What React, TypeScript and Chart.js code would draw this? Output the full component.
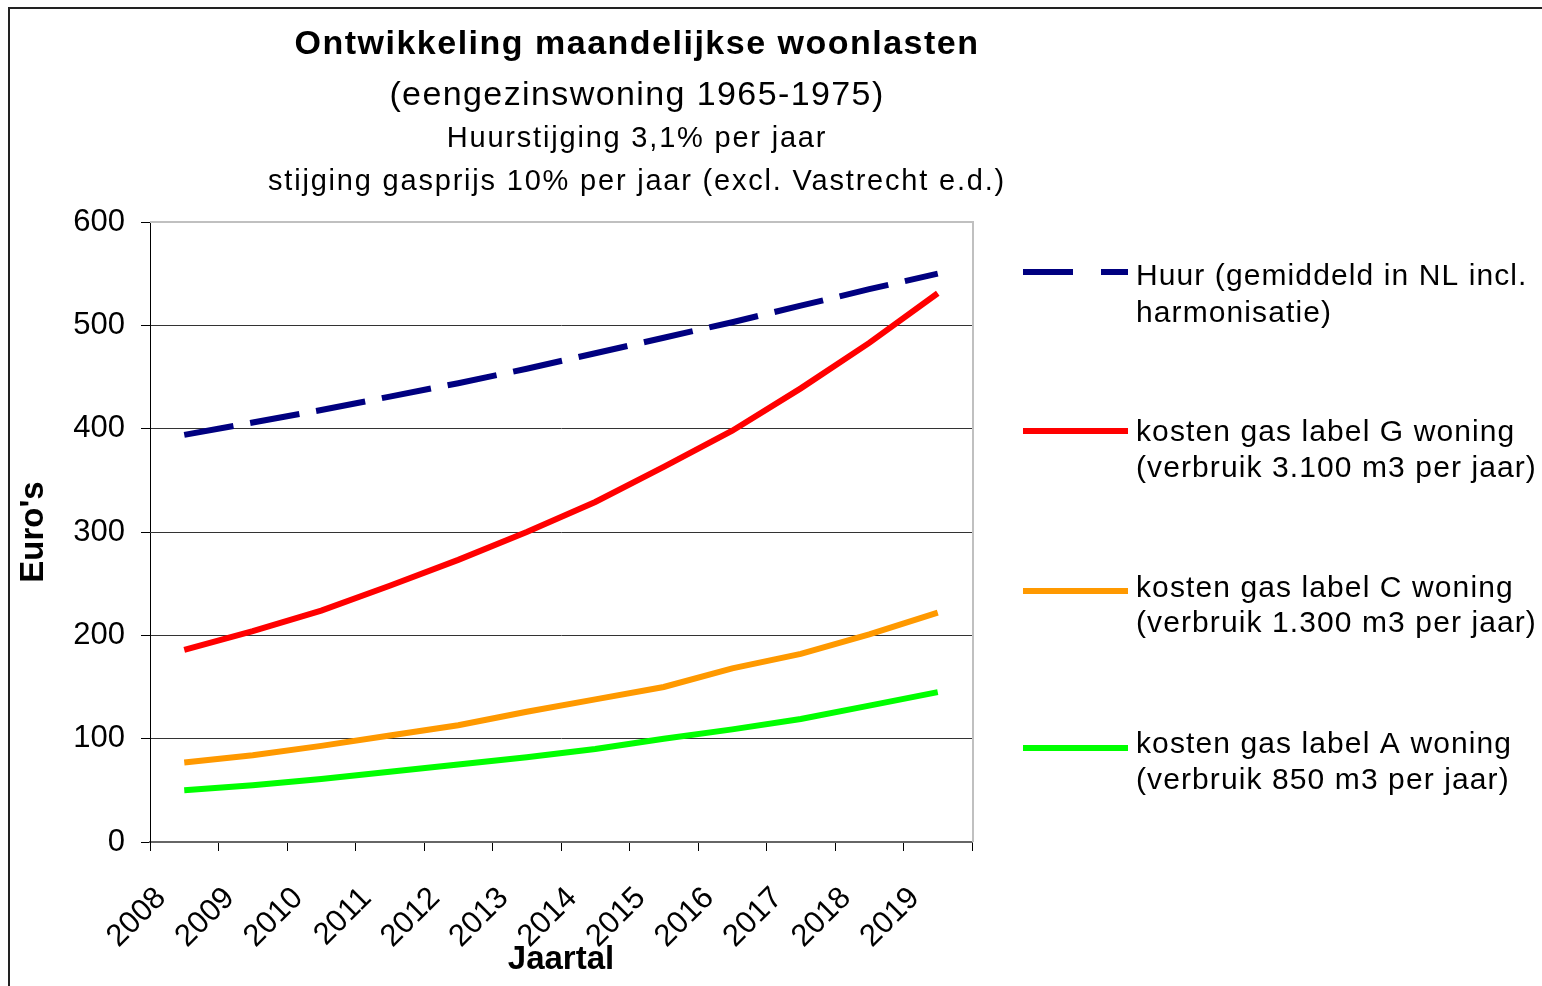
import React, { useEffect, useRef } from 'react';
import { Chart, registerables } from 'chart.js';

Chart.register(...registerables);

const years = ['2008', '2009', '2010', '2011', '2012', '2013', '2014', '2015', '2016', '2017', '2018', '2019'];
const huur = [394, 406, 418, 431, 444, 458, 473, 488, 503, 519, 535, 550];
const gasG = [186, 204, 224, 248, 273, 300, 329, 363, 398, 439, 483, 531];
const gasC = [77, 84, 93, 103, 113, 126, 138, 150, 168, 182, 201, 222];
const gasA = [50, 55, 61, 68, 75, 82, 90, 100, 109, 119, 132, 145];

const titleMain = 'Ontwikkeling maandelijkse woonlasten';
const titleSub = '(eengezinswoning 1965-1975)';
const titleLine3 = 'Huurstijging 3,1% per jaar';
const titleLine4 = 'stijging gasprijs 10% per jaar (excl. Vastrecht e.d.)';
const yTitle = "Euro's";
const xTitle = 'Jaartal';

const legendHuur = ['Huur (gemiddeld in NL incl.', 'harmonisatie)'];
const legendG = ['kosten gas label G woning', '(verbruik 3.100 m3 per jaar)'];
const legendC = ['kosten gas label C woning', '(verbruik 1.300 m3 per jaar)'];
const legendA = ['kosten gas label A woning', '(verbruik 850 m3 per jaar)'];

const FONT = "'Liberation Sans', Arial, sans-serif";

function drawText(ctx: CanvasRenderingContext2D, text: string, x: number, y: number, font: string, spacing: number, align: CanvasTextAlign) {
  ctx.save();
  ctx.font = font;
  (ctx as any).letterSpacing = spacing + 'px';
  ctx.textAlign = align;
  ctx.textBaseline = 'alphabetic';
  ctx.fillStyle = '#000';
  ctx.fillText(text, x, y);
  ctx.restore();
}

const decorPlugin = {
  id: 'decor',
  beforeDraw(chart: any) {
    const ctx = chart.ctx as CanvasRenderingContext2D;
    ctx.save();
    ctx.fillStyle = '#ffffff';
    ctx.fillRect(0, 0, chart.width, chart.height);
    ctx.restore();
  },
  beforeDatasetsDraw(chart: any) {
    const ctx = chart.ctx as CanvasRenderingContext2D;
    const a = chart.chartArea;
    ctx.save();
    ctx.strokeStyle = '#c0c0c0';
    ctx.lineWidth = 2;
    ctx.beginPath();
    ctx.moveTo(a.left, a.top);
    ctx.lineTo(a.right + 1, a.top);
    ctx.lineTo(a.right + 1, a.bottom);
    ctx.stroke();
    ctx.restore();
  },
  afterDraw(chart: any) {
    const ctx = chart.ctx as CanvasRenderingContext2D;
    drawText(ctx, titleMain, 637, 54, `bold 34px ${FONT}`, 1.5, 'center');
    drawText(ctx, titleSub, 637, 105, `34px ${FONT}`, 1.4, 'center');
    drawText(ctx, titleLine3, 637, 147, `29px ${FONT}`, 1.8, 'center');
    drawText(ctx, titleLine4, 637, 190, `29px ${FONT}`, 1.8, 'center');

    const entries = [
      { lines: legendHuur, ds: 0, y: 272, base: [285, 322], dash: [50, 28] },
      { lines: legendG, ds: 1, y: 431, base: [441, 477], dash: [] },
      { lines: legendC, ds: 2, y: 591, base: [597, 632], dash: [] },
      { lines: legendA, ds: 3, y: 748, base: [753, 789], dash: [] },
    ];
    entries.forEach((e) => {
      const ds = chart.data.datasets[e.ds];
      ctx.save();
      ctx.strokeStyle = ds.borderColor;
      ctx.lineWidth = 6;
      ctx.lineCap = 'butt';
      ctx.setLineDash(e.dash);
      ctx.beginPath();
      ctx.moveTo(1023, e.y);
      ctx.lineTo(1128, e.y);
      ctx.stroke();
      ctx.restore();
      e.lines.forEach((t, i) => drawText(ctx, t, 1136, e.base[i], `30px ${FONT}`, 1.1, 'left'));
    });

    ctx.save();
    ctx.strokeStyle = '#222';
    ctx.lineWidth = 2;
    ctx.strokeRect(9, 8, 2000, 2000);
    ctx.restore();
  },
};

export default function App() {
  const ref = useRef<HTMLCanvasElement | null>(null);

  useEffect(() => {
    if (!ref.current) return;
    Chart.defaults.font.family = FONT;
    const chart = new Chart(ref.current, {
      type: 'line',
      data: {
        labels: years,
        datasets: [
          { label: legendHuur.join(' '), data: huur, borderColor: '#000080', borderWidth: 6, borderDash: [50, 17], borderCapStyle: 'butt', pointRadius: 0, tension: 0, fill: false },
          { label: legendG.join(' '), data: gasG, borderColor: '#ff0000', borderWidth: 6, pointRadius: 0, tension: 0, fill: false },
          { label: legendC.join(' '), data: gasC, borderColor: '#ff9900', borderWidth: 6, pointRadius: 0, tension: 0, fill: false },
          { label: legendA.join(' '), data: gasA, borderColor: '#00ff00', borderWidth: 6, pointRadius: 0, tension: 0, fill: false },
        ],
      },
      options: {
        responsive: false,
        maintainAspectRatio: false,
        devicePixelRatio: 1,
        animation: false,
        layout: { padding: { top: 222, right: 570, left: 0, bottom: 0 } },
        plugins: {
          legend: { display: false },
          title: { display: false },
          tooltip: { enabled: false },
        },
        scales: {
          x: {
            type: 'category',
            offset: true,
            grid: { display: true, drawOnChartArea: false, drawTicks: true, tickLength: 9, color: '#000', offset: true },
            border: { display: true, color: '#666', width: 2 },
            ticks: {
              autoSkip: false,
              minRotation: 45,
              maxRotation: 45,
              padding: 29,
              labelOffset: -23,
              color: '#000',
              font: { size: 31, family: FONT },
            },
            title: { display: true, text: xTitle, color: '#000', font: { size: 33, weight: 'bold', family: FONT }, padding: { top: 0, bottom: 6 } },
            afterFit: (s: any) => { s.height = 144; },
          },
          y: {
            min: 0,
            max: 600,
            ticks: { stepSize: 100, padding: 16, color: '#000', font: { size: 31, family: FONT } },
            grid: {
              color: (c: any) => (c.tick && c.tick.value === 600 ? '#c0c0c0' : '#333'),
              tickColor: '#000',
              tickLength: 9,
              lineWidth: 1,
            },
            border: { display: true, color: '#000', width: 1 },
            title: { display: true, text: yTitle, color: '#000', font: { size: 33, weight: 'bold', family: FONT }, padding: { top: 14, bottom: 0 } },
            afterFit: (s: any) => { s.width = 150; },
          },
        },
      } as any,
      plugins: [decorPlugin],
    });
    return () => chart.destroy();
  }, []);

  return (
    <div style={{ position: 'absolute', left: 0, top: 0, width: 1542, height: 986 }}>
      <canvas ref={ref} width={1542} height={986} style={{ display: 'block', width: 1542, height: 986 }} />
    </div>
  );
}
